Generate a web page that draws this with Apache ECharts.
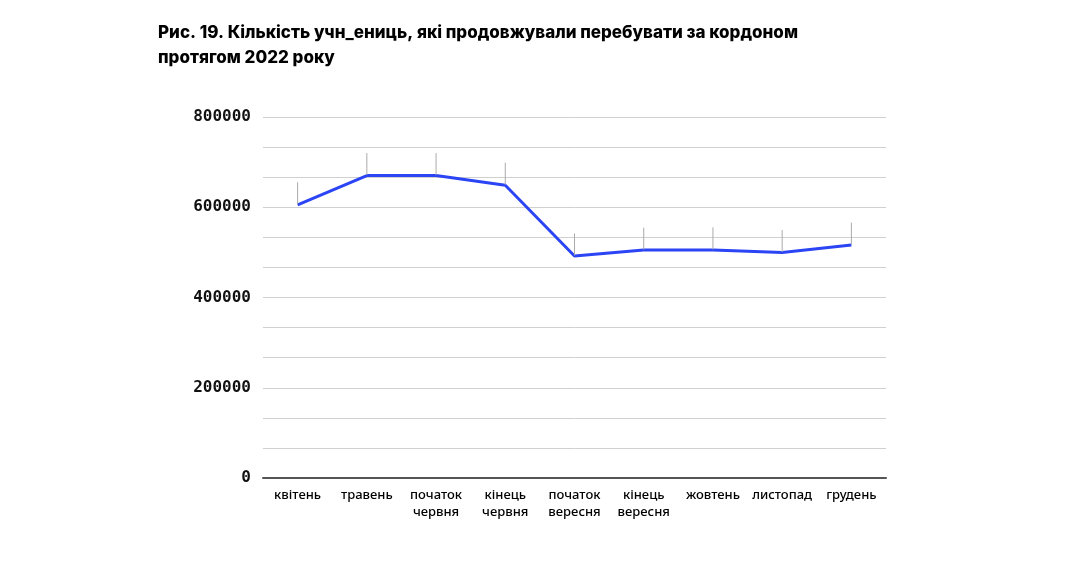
<!DOCTYPE html>
<html>
<head>
<meta charset="utf-8">
<script src="https://cdn.jsdelivr.net/npm/echarts@6/dist/echarts.min.js"></script>
<style>
  html, body { margin: 0; padding: 0; background: #fff; }
  #container { width: 1078px; height: 582px; }
</style>
</head>
<body>
<div id="container"></div>
<script>
var categories = ['квітень', 'травень', 'початок\nчервня', 'кінець\nчервня', 'початок\nвересня', 'кінець\nвересня', 'жовтень', 'листопад', 'грудень'];
var students = [605474, 670343, 670133, 648873, 492077, 505000, 505441, 499522, 516243];

var myChart = echarts.init(document.getElementById('container'));
myChart.setOption({
    animation: false,
    title: {
        text: 'Рис. 19. Кількість учн_ениць, які продовжували перебувати за кордоном\nпротягом 2022 року',
        left: 153,
        top: 15,
        textStyle: {
            fontFamily: 'Inter',
            fontWeight: 800,
            fontSize: 17,
            lineHeight: 25,
            color: '#000'
        }
    },
    grid: { left: 263, right: 192, top: 117, bottom: 104 },
    xAxis: {
        type: 'category',
        data: categories,
        axisLine: { lineStyle: { color: '#555', width: 2 } },
        axisTick: { show: false },
        axisLabel: {
            fontFamily: 'Noto Sans',
            fontSize: 13,
            fontWeight: 500,
            color: '#000',
            lineHeight: 17,
            margin: 9,
            interval: 0
        }
    },
    yAxis: {
        type: 'value',
        min: 0,
        max: 800000,
        interval: 800000 / 12,
        axisLine: { show: false },
        axisTick: { show: false },
        splitLine: { lineStyle: { color: '#d0d0d0' } },
        axisLabel: {
            fontFamily: 'DejaVu Sans Mono',
            fontSize: 16,
            fontWeight: 'bold',
            color: '#111',
            margin: 12,
            formatter: function (v) {
                var r = Math.round(v);
                return r % 200000 === 0 ? String(r) : '';
            }
        }
    },
    series: [{
        type: 'line',
        data: students,
        symbol: 'circle',
        symbolSize: 1,
        itemStyle: { color: '#2b45f5', opacity: 0 },
        lineStyle: { color: '#2b45f5', width: 3 },
        label: {
            show: true,
            position: 'top',
            fontFamily: 'DejaVu Sans Mono',
            fontSize: 15,
            color: '#111',
            distance: 4
        },
        labelLayout: { dy: -18 },
        labelLine: { show: true, lineStyle: { color: '#aaa', width: 1 } }
    }]
});
</script>
</body>
</html>
